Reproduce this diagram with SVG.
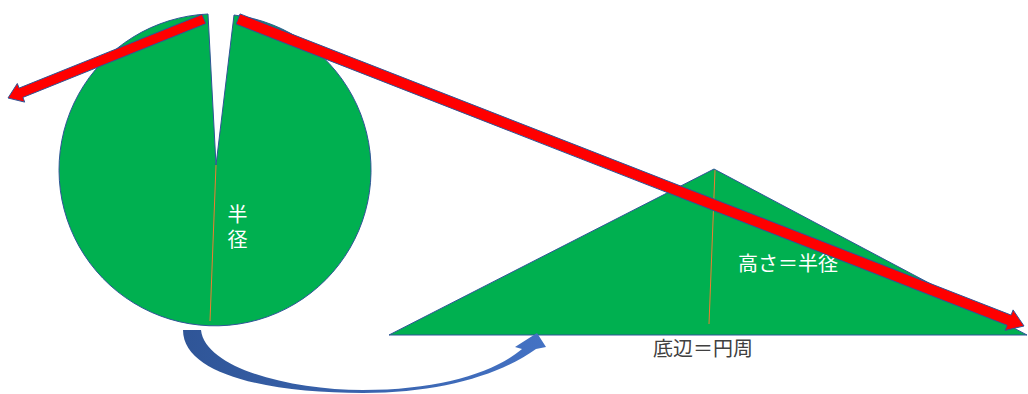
<svg xmlns="http://www.w3.org/2000/svg" width="1028" height="394" viewBox="0 0 1028 394">
  <style>
    .shape { fill: #00B050; stroke: #2F5597; stroke-width: 1; }
    .radius { stroke: #ED7D31; stroke-width: 1; fill: none; }
    .lbl { font-family: "Noto Sans CJK JP", "Noto Sans", sans-serif; font-size: 20px; }
    .white { fill: #FFFFFF; }
    .dark { fill: #404040; }
    .red { fill: #FF0000; stroke: #2F5597; stroke-width: 1; }
  </style>
  <defs>
    <linearGradient id="blueGrad" x1="183" y1="0" x2="546" y2="0" gradientUnits="userSpaceOnUse">
      <stop offset="0" stop-color="#2F5597"/>
      <stop offset="1" stop-color="#4472C4"/>
    </linearGradient>
  </defs>
  <rect width="1028" height="394" fill="#FFFFFF"/>

  <g id="circle">
    <path class="shape" d="M216,165 L208,14 A156,156 0 1,0 234,15 Z"/>
    <line class="radius" x1="216" y1="165" x2="210" y2="321"/>
    <text class="lbl white" x="237.5" y="204" writing-mode="vertical-rl" letter-spacing="5">半径</text>
  </g>

  <g id="triangle">
    <path class="shape" d="M389,335 L714,169 L1027,335 Z"/>
    <line class="radius" x1="715" y1="170" x2="709" y2="324"/>
    <text class="lbl white" x="738" y="271">高さ＝半径</text>
  </g>

  <g id="base-label">
    <text class="lbl dark" x="653" y="356">底辺＝円周</text>
  </g>

  <g id="connectors">
    <path fill="url(#blueGrad)" d="M183,330 C183,375 270,393 363,393 C440,393 500,375 536,349 L546,347 L537,333 L515,347 L522,349 C495,372 440,390 363,390 C290,390 205,368 201,330 Z"/>
    <polygon class="red" points="202.1,14.4 19.1,88.1 17.3,83.5 8,98 24.7,102.1 22.9,97.4 205.9,23.6"/>
    <polygon class="red" points="240.0,13.9 1011.1,315.1 1013.1,309.9 1024,326 1005.1,330.4 1007.1,325.3 236.0,24.1"/>
  </g>
</svg>
